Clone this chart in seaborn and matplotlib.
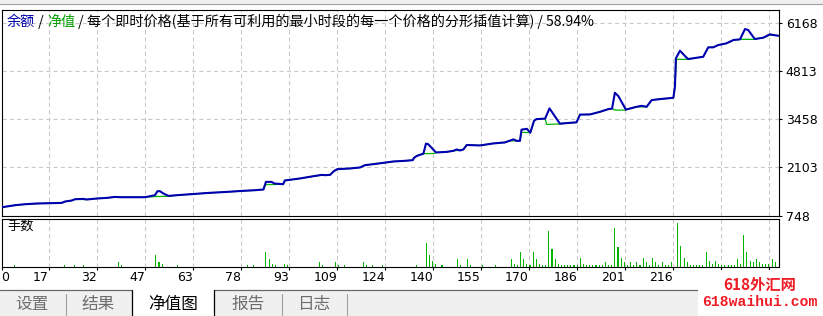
import numpy as np
import pandas as pd
import matplotlib
matplotlib.use("Agg")
import matplotlib.pyplot as plt
import seaborn as sns
from matplotlib.patches import Rectangle
from matplotlib.lines import Line2D

# ---------------- data ----------------
balance_trade = [2.0, 6.2, 9.4, 13.1, 21.0, 22.1, 24.2, 25.3, 27.9, 29.0, 32.2, 35.3, 38.0, 39.6, 47.5,
                 50.7, 51.5, 52.3, 53.4, 55.0, 57.6, 63.4, 67.7, 73.5, 78.3, 82.5, 85.2, 86.0, 87.8, 88.7,
                 91.5, 92.0, 96.8, 101.1, 103.7, 104.8, 106.4, 107.6, 108.7, 112.7, 115.9, 117.5, 120.1,
                 123.3, 126.5, 129.9, 132.7, 133.1, 134.0, 136.1, 136.9, 137.6, 140.1, 143.5, 145.6, 146.7,
                 147.7, 148.8, 149.9, 154.1, 158.3, 162.0, 163.4, 164.7, 165.8, 166.8, 167.3, 169.0, 170.1,
                 171.3, 172.1, 174.8, 176.2, 179.5, 184.8, 185.9, 189.1, 192.3, 194.9, 196.1, 197.0, 198.1,
                 200.5, 203.9, 205.5, 207.1, 208.7, 211.3, 215.6, 216.1, 216.4, 217.7, 219.3, 220.3, 223.0,
                 225.1, 226.7, 228.3, 229.9, 232.5, 234.7, 236.8, 238.4, 239.4, 241.5, 244.2, 246.3, 247.4,
                 249.0]
balance_value = [982, 1039, 1067, 1087, 1104, 1143, 1171, 1208, 1217, 1200, 1228, 1245, 1273, 1265, 1265,
                 1321, 1434, 1434, 1369, 1301, 1321, 1358, 1386, 1414, 1442, 1462, 1482, 1697, 1697, 1651,
                 1632, 1736, 1793, 1857, 1894, 1886, 1894, 1999, 2055, 2075, 2103, 2168, 2196,
                 2233, 2272, 2289, 2309, 2374, 2430, 2493, 2775, 2761, 2526, 2543, 2572, 2611,
                 2583, 2611, 2738, 2724, 2781, 2809, 2854, 2896, 2854, 2854, 3170, 3193, 3085,
                 3424, 3467, 3481, 3769, 3340, 3376, 3594, 3599, 3673, 3749, 3763, 4209, 4116,
                 3735, 3814, 3842, 3814, 4003, 4031, 4068, 4378, 5180, 5395, 5245, 5160, 5197,
                 5225, 5491, 5491, 5556, 5604, 5697, 5716, 6007, 5979, 5725, 5762, 5858, 5838,
                 5818]

equity_trade = [2.0, 6.2, 9.4, 13.1, 21.0, 22.1, 24.2, 25.3, 27.9, 29.0, 32.2, 35.3, 38.0, 39.6, 47.5,
                50.7, 55.0, 57.6, 63.4, 67.7, 73.5, 78.3, 82.5, 85.2, 86.0, 88.7,
                91.5, 92.0, 96.8, 101.1, 103.7, 104.8, 106.4, 107.6, 108.7, 112.7, 115.9, 117.5, 120.1,
                123.3, 126.5, 129.9, 132.7, 133.1, 134.0, 136.1, 139.6, 140.1, 143.5, 145.6, 146.7,
                147.7, 148.8, 149.9, 154.1, 158.3, 162.0, 163.4, 164.7, 165.8, 166.8, 167.3, 169.9, 170.1,
                171.3, 172.1, 174.8, 175.3, 179.5, 184.8, 185.9, 189.1, 192.3, 194.9, 196.1, 197.0, 200.3,
                200.5, 203.9, 205.5, 207.1, 208.7, 211.3, 215.6, 216.1, 216.6, 220.1, 220.3, 223.0,
                225.1, 226.7, 228.3, 229.9, 232.5, 234.7, 236.8, 237.3, 241.3, 241.5, 244.2, 246.3, 247.4,
                249.0]
equity_value = [982, 1039, 1067, 1087, 1104, 1143, 1171, 1208, 1200, 1200, 1228, 1245, 1265, 1265, 1265,
                1284, 1290, 1321, 1358, 1386, 1414, 1442, 1462, 1482, 1623, 1623,
                1632, 1736, 1793, 1857, 1886, 1886, 1894, 1999, 2055, 2075, 2103, 2168, 2196,
                2233, 2272, 2289, 2309, 2374, 2430, 2493, 2498, 2526, 2543, 2572, 2583,
                2583, 2611, 2738, 2724, 2781, 2809, 2854, 2854, 2854, 2854, 3091, 3091, 3085,
                3424, 3467, 3481, 3317, 3330, 3376, 3594, 3599, 3673, 3749, 3763, 3721, 3721,
                3735, 3814, 3814, 3814, 4003, 4031, 4068, 4378, 5152, 5152, 5160, 5197,
                5225, 5491, 5491, 5556, 5604, 5697, 5716, 5716, 5716, 5725, 5762, 5838, 5838,
                5818]

lot_trade = [6, 22, 25, 28, 39, 40, 51, 52, 53, 58, 80, 82, 86, 87, 88, 89, 92, 93, 103, 104, 108, 109,
             111, 117, 118, 120, 123, 134, 137, 138, 139, 140, 142, 147, 148, 150, 151, 155, 159,
             164, 165, 166, 167, 168, 169, 170, 171, 172, 173, 174, 175, 176, 177, 178, 179,
             180, 181, 182, 183, 184, 185, 186, 187, 188, 189, 190, 191, 192, 193, 194, 195, 196,
             197, 198, 199, 200, 201, 202, 203, 204, 205, 206, 207, 208, 209, 210, 211, 212, 213,
             214, 215, 217, 218, 219, 220, 221, 222, 223, 224, 225, 226, 227, 228, 229, 230,
             231, 232, 233, 234, 235, 236, 237, 238, 239, 240, 241, 242, 243, 244, 245, 246, 247, 248]
lot_size = [0.01, 0.01, 0.01, 0.01, 0.03, 0.01, 0.08, 0.03, 0.02, 0.01, 0.01, 0.01, 0.10, 0.05, 0.02,
            0.01, 0.02, 0.01, 0.03, 0.01, 0.03, 0.01,
            0.01, 0.03, 0.01, 0.01, 0.01, 0.01, 0.16, 0.08, 0.04, 0.02, 0.01, 0.05, 0.01, 0.05, 0.01,
            0.01, 0.01,
            0.05, 0.02, 0.01, 0.10, 0.05, 0.02, 0.01, 0.10, 0.05, 0.02, 0.01, 0.01, 0.24, 0.12, 0.05,
            0.02,
            0.01, 0.01, 0.01, 0.01, 0.01, 0.01, 0.06, 0.02, 0.01, 0.01, 0.01, 0.01, 0.01, 0.01, 0.03,
            0.01, 0.01,
            0.26, 0.13, 0.06, 0.03, 0.01, 0.03, 0.01, 0.03, 0.01, 0.06, 0.03, 0.01, 0.06, 0.03, 0.01,
            0.03, 0.01,
            0.01, 0.03, 0.29, 0.14, 0.06, 0.03, 0.01, 0.01, 0.01, 0.01, 0.01, 0.10, 0.04, 0.02, 0.04,
            0.02,
            0.01, 0.01, 0.01, 0.01, 0.01, 0.05, 0.02, 0.21, 0.10, 0.04, 0.03, 0.05, 0.03, 0.02, 0.02,
            0.02, 0.05, 0.03]

y_tick_values = [748, 2103, 3458, 4813, 6168]
x_tick_labels = ["0", "17", "32", "47", "63", "78", "93", "109", "124", "140", "155", "170", "186",
                 "201", "216", "231", "246"]
hidden_tick_labels = ["231", "246"]   # covered by the watermark box in the reference
title_parts = [("余额", "#0000a8"), (" / ", "#000000"), ("净值", "#00a000"), (" / ", "#000000"),
               ("每个即时价格(基于所有可利用的最小时段的每一个价格的分形插值计算) / 58.94%", "#000000")]
panel_label = "手数"
tab_labels = ["设置", "结果", "净值图", "报告", "日志"]
watermark = ["618外汇网", "618waihui.com"]

# ---------------- layout ----------------
sns.set_theme(style="white")
plt.rcParams["font.family"] = ["DejaVu Sans"]
CJK = ["Noto Sans CJK SC", "DejaVu Sans"]

W, H = 823, 316
fig = plt.figure(figsize=(W / 100, H / 100), dpi=100)
fig.patch.set_facecolor("white")


def fx(x):
    return x / W


def fy(y):
    return 1 - y / H


XMIN, XMAX = 1.89, 249.3
grid_step = 15.267
grid_pos = [1.733 + grid_step * k for k in range(1, 17)]

ax1 = fig.add_axes([fx(1.5), fy(216), (779.3 - 1.5) / W, (216 - 9.7) / H])
ax2 = fig.add_axes([fx(1.5), fy(266.7), (779.3 - 1.5) / W, (266.7 - 218.7) / H])
for ax in (ax1, ax2):
    ax.set_facecolor("white")

bal = pd.DataFrame({"trade": balance_trade, "value": balance_value})
eq = pd.DataFrame({"trade": equity_trade, "value": equity_value})

grid_kw = dict(color="#c8c8c8", linestyle=(0, (4, 3)), linewidth=0.75)

sns.lineplot(data=eq, x="trade", y="value", ax=ax1, color="#00b400", lw=0.9,
             estimator=None, sort=False, zorder=3)
sns.lineplot(data=bal, x="trade", y="value", ax=ax1, color="#0000b0", lw=1.5,
             estimator=None, sort=False, zorder=4)
ax1.set_xlim(XMIN, XMAX)
ax1.set_ylim(735, 6552)
ax1.set_xlabel("")
ax1.set_ylabel("")
ax1.set_xticks(grid_pos)
ax1.tick_params(axis="x", length=0, labelbottom=False)
ax1.yaxis.tick_right()
ax1.set_yticks(y_tick_values)
ax1.set_yticklabels([str(v) for v in y_tick_values])
ax1.tick_params(axis="y", right=True, left=False, direction="out", length=2.4, width=0.8,
                pad=2.2, labelsize=9, colors="black")
ax1.grid(True, **grid_kw)
ax1.set_axisbelow(True)

sns.barplot(x=lot_trade, y=lot_size, ax=ax2, native_scale=True, orient="x", width=0.34,
            color="#00b400", saturation=1, linewidth=0, errorbar=None)
ax2.set_xlim(XMIN, XMAX)
ax2.set_ylim(0, 0.32)
ax2.set_yticks([])
ax2.set_xlabel("")
ax2.set_ylabel("")
ax2.set_xticks([XMIN] + grid_pos)
ax2.set_xticklabels(x_tick_labels, ha="right")
labels = ax2.get_xticklabels()
labels[0].set_ha("left")
for lab in labels:
    if lab.get_text() in hidden_tick_labels:
        lab.set_visible(False)
ax2.tick_params(axis="x", bottom=True, direction="out", length=2.4, width=0.8, pad=1.0,
                labelsize=9, colors="black")
ax2.xaxis.grid(True, **grid_kw)
ax2.set_axisbelow(True)

for ax in (ax1, ax2):
    for s in ax.spines.values():
        s.set_visible(True)
        s.set_color("black")
        s.set_linewidth(0.8)

# title (colored pieces chained one after the other)
prev = fig.text(fx(7), fy(22), title_parts[0][0], color=title_parts[0][1], family=CJK,
                fontsize=10.15, ha="left", va="center")
for txt, col in title_parts[1:]:
    prev = ax1.annotate(txt, xy=(1, 0), xycoords=prev, ha="left", va="bottom", color=col,
                        family=CJK, fontsize=10.15, annotation_clip=False)

fig.text(fx(7), fy(226.5), panel_label, family=CJK, fontsize=9.5, ha="left", va="center",
         color="black")

# window chrome: top band
fig.add_artist(Rectangle((0, fy(4)), 1, 4 / H, transform=fig.transFigure, facecolor="#f0f0f0",
                         edgecolor="none", zorder=0))
fig.add_artist(Line2D([0, 1], [fy(4.3), fy(4.3)], transform=fig.transFigure, color="#a0a0a0",
                      lw=0.8))

# tab bar
fig.add_artist(Rectangle((0, 0), 1, fy(289.5), transform=fig.transFigure, facecolor="#f0f0f0",
                         edgecolor="none", zorder=1))
fig.add_artist(Line2D([0, fx(132)], [fy(289.5), fy(289.5)], transform=fig.transFigure,
                      color="#696969", lw=0.9, zorder=2))
fig.add_artist(Line2D([fx(214), 1], [fy(289.5), fy(289.5)], transform=fig.transFigure,
                      color="#696969", lw=0.9, zorder=2))
fig.add_artist(Rectangle((fx(132), 0), (214 - 132) / W, fy(289.5), transform=fig.transFigure,
                         facecolor="white", edgecolor="none", zorder=2))
for xv in (132, 214):
    fig.add_artist(Line2D([fx(xv), fx(xv)], [0, fy(289.5)], transform=fig.transFigure,
                          color="black", lw=0.9, zorder=3))
for xv in (66, 282, 347):
    fig.add_artist(Line2D([fx(xv), fx(xv)], [fy(315), fy(294)], transform=fig.transFigure,
                          color="#a0a0a0", lw=0.8, zorder=3))
tab_centers = [32, 98, 173, 248, 314]
for lab, cx in zip(tab_labels, tab_centers):
    col = "black" if lab == "净值图" else "#6e6e6e"
    fig.text(fx(cx), fy(304), lab, family=CJK, fontsize=12, ha="center", va="center",
             color=col, zorder=4)

# watermark (white box covering the last labels)
fig.add_artist(Rectangle((fx(698.3), 0), 1 - fx(698.3), fy(269.5), transform=fig.transFigure,
                         facecolor="white", edgecolor="none", zorder=5))
fig.text(fx(760), fy(285), watermark[0], family=CJK, fontsize=11, fontweight="bold",
         color="#ee1c25", ha="center", va="center", zorder=6)
fig.text(fx(759.5), fy(302.5), watermark[1], family=["Liberation Mono", "DejaVu Sans Mono"],
         fontsize=10.6, fontweight="bold", color="#ee1c25", ha="center", va="center", zorder=6)

fig.savefig("out.png", dpi=100, facecolor="white")
